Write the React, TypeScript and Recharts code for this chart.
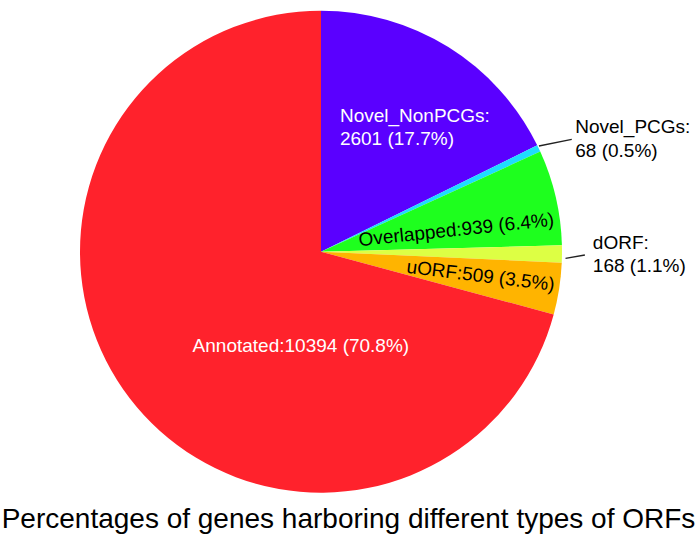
import React from 'react';
import { PieChart, Pie, Cell } from 'recharts';

const categories = ['Novel_NonPCGs', 'Novel_PCGs', 'Overlapped', 'dORF', 'uORF', 'Annotated'];
const geneCounts = [2601, 68, 939, 168, 509, 10394];
const sliceColors = ['#5A00FF', '#1EDCFF', '#1EFF1E', '#DDFF44', '#FFB400', '#FF222C'];
const chartTitle = 'Percentages of genes harboring different types of ORFs';

const pieData = categories.map((name, i) => ({ name, value: geneCounts[i] }));

const FONT = '"Liberation Sans", Arial, Helvetica, sans-serif';
const RAD = Math.PI / 180;

type LabelCfg =
  | { kind: 'inside'; rf: number; da: number; anchor: 'start' | 'middle'; rot: number; fill: string; split: boolean }
  | { kind: 'outside'; sR: number; sDa: number; eR: number; eDa: number; gap: number };

const labelLayout: Record<string, LabelCfg> = {
  Novel_NonPCGs: { kind: 'inside', rf: 0.544, da: 23.6, anchor: 'start', rot: 0, fill: '#ffffff', split: true },
  Novel_PCGs: { kind: 'outside', sR: 1.005, sDa: 0.5, eR: 1.14, eDa: -1.25, gap: 3.5 },
  Overlapped: { kind: 'inside', rf: 0.568, da: -6.4, anchor: 'middle', rot: -6, fill: '#000000', split: false },
  dORF: { kind: 'outside', sR: 1.015, sDa: -1.0, eR: 1.095, eDa: -0.17, gap: 8 },
  uORF: { kind: 'inside', rf: 0.671, da: -1.9, anchor: 'middle', rot: 7, fill: '#000000', split: false },
  Annotated: { kind: 'inside', rf: 0.424, da: 41.2, anchor: 'middle', rot: 0, fill: '#ffffff', split: false },
};

const polar = (cx: number, cy: number, r: number, a: number) => ({
  x: cx + r * Math.cos(a * RAD),
  y: cy - r * Math.sin(a * RAD),
});

const renderLabel = (props: any) => {
  const { cx, cy, midAngle, outerRadius, name, value, percent } = props;
  const cfg = labelLayout[name];
  if (!cfg) return null;
  const pct = (percent * 100).toFixed(1);
  const R = outerRadius;
  if (cfg.kind === 'outside') {
    const s = polar(cx, cy, R * cfg.sR, midAngle + cfg.sDa);
    const e = polar(cx, cy, R * cfg.eR, midAngle + cfg.eDa);
    const tx = e.x + cfg.gap;
    return (
      <g>
        <line x1={s.x} y1={s.y} x2={e.x} y2={e.y} stroke="#222" strokeWidth={1.3} />
        <text x={tx} y={e.y - 6} fontFamily={FONT} fontSize={19} fill="#000" textAnchor="start">
          <tspan x={tx}>{name}:</tspan>
          <tspan x={tx} dy={23.5}>{`${value} (${pct}%)`}</tspan>
        </text>
      </g>
    );
  }
  const p = polar(cx, cy, R * cfg.rf, midAngle + cfg.da);
  if (cfg.split) {
    return (
      <text x={p.x} y={p.y} fontFamily={FONT} fontSize={19} fill={cfg.fill} textAnchor={cfg.anchor}>
        <tspan x={p.x}>{name}:</tspan>
        <tspan x={p.x} dy={23}>{`${value} (${pct}%)`}</tspan>
      </text>
    );
  }
  return (
    <text
      x={p.x}
      y={p.y}
      fontFamily={FONT}
      fontSize={19}
      fill={cfg.fill}
      textAnchor={cfg.anchor}
      transform={`rotate(${cfg.rot} ${p.x} ${p.y})`}
    >
      {`${name}:${value} (${pct}%)`}
    </text>
  );
};

export default function App() {
  return (
    <div style={{ position: 'absolute', left: 0, top: 0, width: 697, height: 540, background: '#fff' }}>
      <PieChart width={697} height={540} margin={{ top: 0, right: 0, bottom: 0, left: 0 }}>
        <Pie
          data={pieData}
          dataKey="value"
          nameKey="name"
          cx={321}
          cy={251.7}
          outerRadius={241}
          startAngle={90}
          endAngle={-270}
          stroke="none"
          label={renderLabel}
          labelLine={false}
          isAnimationActive={false}
        >
          {pieData.map((d, i) => (
            <Cell key={d.name} fill={sliceColors[i]} />
          ))}
        </Pie>
      </PieChart>
      <div
        style={{
          position: 'absolute',
          left: 0,
          top: 505,
          width: 697,
          textAlign: 'center',
          fontFamily: FONT,
          fontSize: 28,
          lineHeight: '28px',
          color: '#000',
          whiteSpace: 'nowrap',
        }}
      >
        {chartTitle}
      </div>
    </div>
  );
}
